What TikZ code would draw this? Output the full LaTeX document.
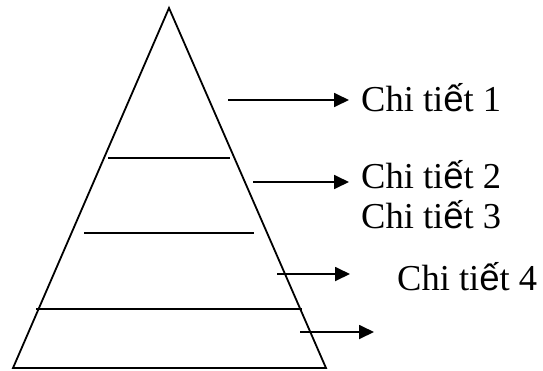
\documentclass[tikz,border=0pt]{standalone}
\usepackage{fontspec}
\setmainfont{Liberation Serif}
\newfontfamily\accfont{Liberation Sans}
\usetikzlibrary{arrows.meta}

\tikzset{
  edge/.style={line width=1.8pt},
  pointer/.style={line width=1.8pt,-{Triangle[length=15pt,width=14pt]}},
  detail/.style={anchor=base west,inner sep=0pt,font=\fontsize{36.5}{40}\selectfont}
}
\newcommand{\chitiet}[1]{Chi ti{\accfont ế}t #1}

\begin{document}
\begin{tikzpicture}[x=1pt,y=-1pt]
\useasboundingbox (0,0) rectangle (543,370);
\coordinate (apex) at (169,8);
\coordinate (bl) at (13,368);
\coordinate (br) at (326,368);
\draw[edge] (bl) -- (apex) -- (br) -- cycle;
\coordinate (l1a) at (108,158);
\coordinate (l1b) at (230,158);
\coordinate (l2a) at (84,233);
\coordinate (l2b) at (254,233);
\coordinate (l3a) at (36,309);
\coordinate (l3b) at (302,309);
\draw[edge] (l1a) -- (l1b);
\draw[edge] (l2a) -- (l2b);
\draw[edge] (l3a) -- (l3b);
\node[detail] (d1) at (361,111) {\chitiet{1}};
\node[detail] (d2) at (361,188) {\chitiet{2}};
\node[detail] (d3) at (361,228) {\chitiet{3}};
\node[detail] (d4) at (397,290) {\chitiet{4}};
\coordinate (a1) at (228,100);
\coordinate (b1) at (349,100);
\coordinate (a2) at (253,182);
\coordinate (b2) at (349,182);
\coordinate (a3) at (277,274);
\coordinate (b3) at (350,274);
\coordinate (a4) at (300,332);
\coordinate (b4) at (374,332);
\draw[pointer] (a1) -- (b1);
\draw[pointer] (a2) -- (b2);
\draw[pointer] (a3) -- (b3);
\draw[pointer] (a4) -- (b4);
\end{tikzpicture}
\end{document}
